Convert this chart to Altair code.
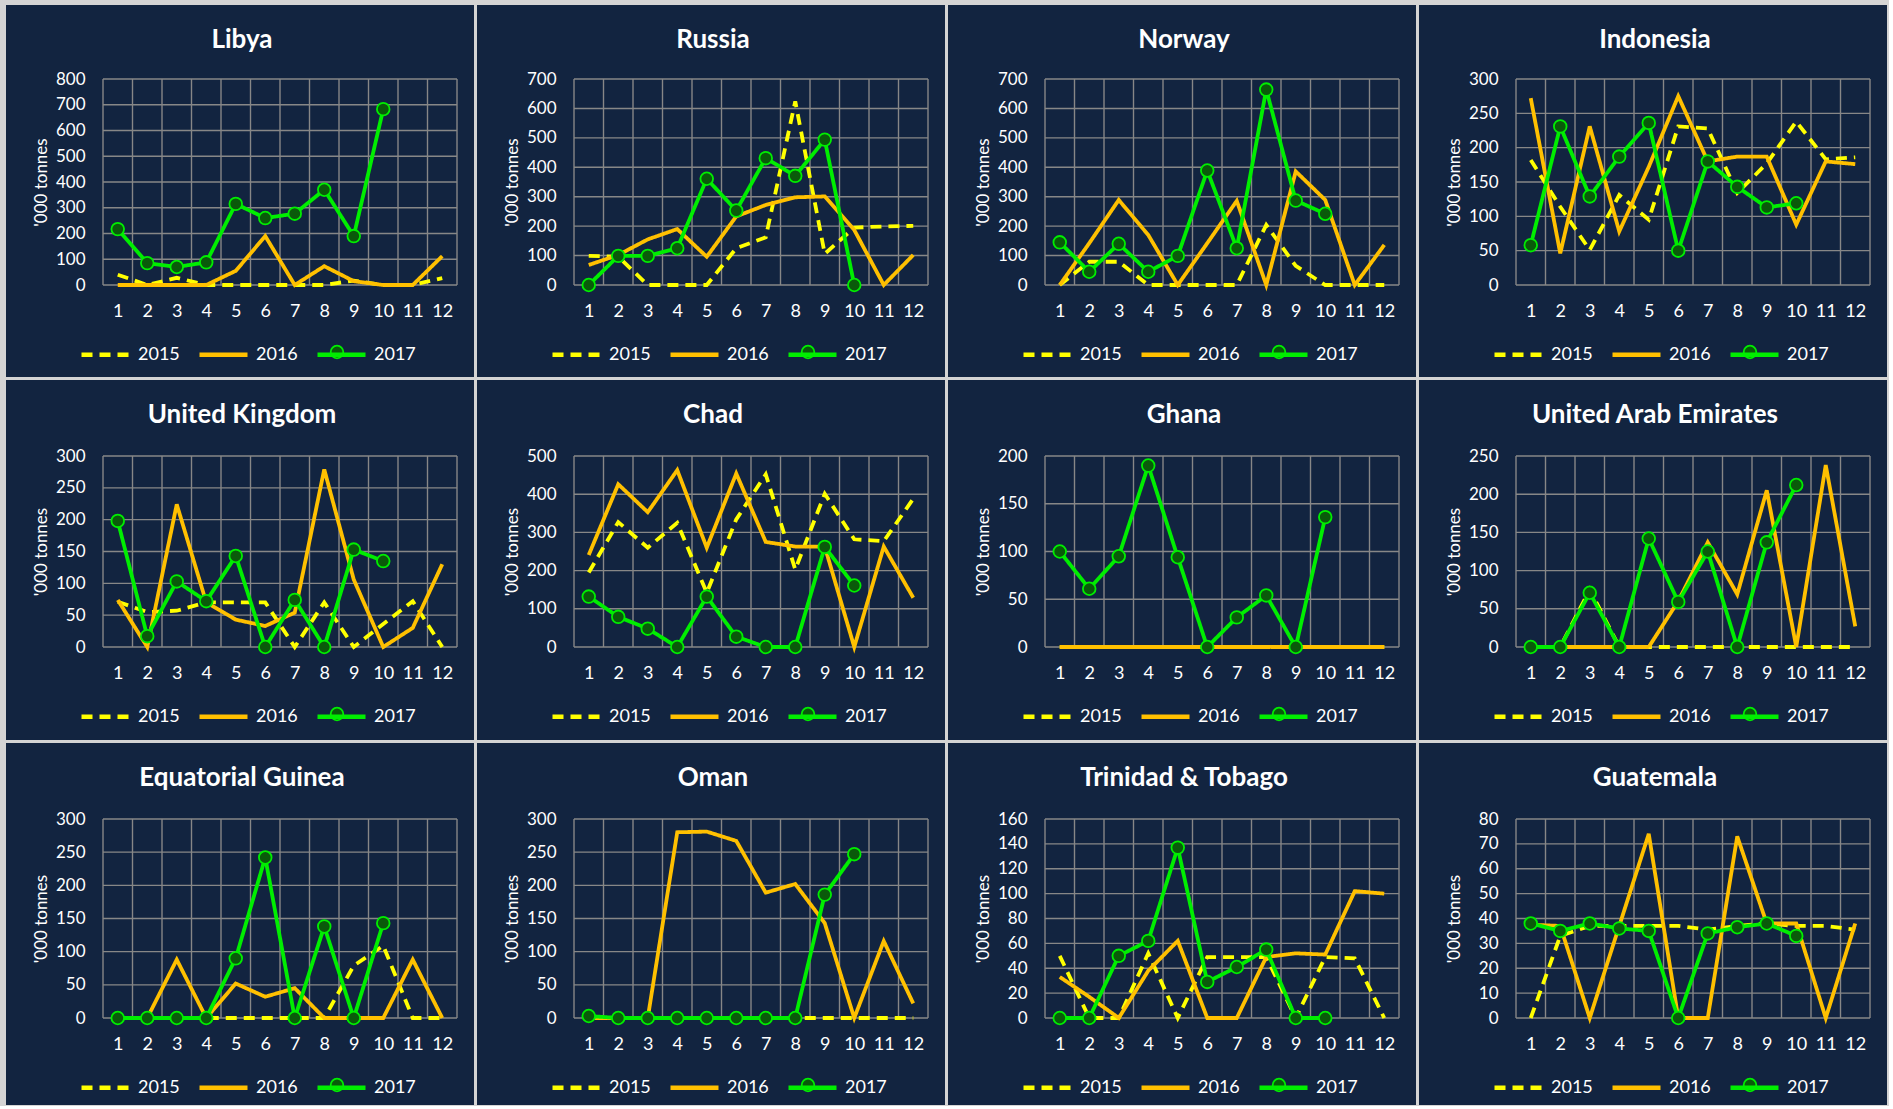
import altair as alt
import pandas as pd

FONT = "Lato"
NAVY = "#122440"
SEP = "#d4d4d4"
GRID = "#878787"
YELLOW = "#ffff00"
ORANGE = "#ffc000"
GREEN = "#00ee00"
DKGREEN = "#0a5a0a"

MONTHS = list(range(1, 13))
YEARS = ["2015", "2016", "2017"]

countries = ["Libya", "Russia", "Norway", "Indonesia",
             "United Kingdom", "Chad", "Ghana", "United Arab Emirates",
             "Equatorial Guinea", "Oman", "Trinidad & Tobago", "Guatemala"]
y_max = [800, 700, 700, 300, 300, 500, 200, 250, 300, 300, 160, 80]
y_step = [100, 100, 100, 50, 50, 100, 50, 50, 50, 50, 20, 10]

libya_2015 = [40, 0, 28, 0, 0, 0, 0, 0, 17, 0, 0, 27]
libya_2016 = [0, 0, 0, 0, 55, 190, 0, 73, 15, 0, 0, 112]
libya_2017 = [217, 85, 70, 88, 315, 260, 277, 370, 190, 683]

russia_2015 = [99, 96, 0, 0, 0, 125, 162, 624, 106, 195, 199, 201]
russia_2016 = [68, 102, 155, 190, 96, 233, 272, 298, 301, 187, 0, 102]
russia_2017 = [0, 99, 99, 125, 361, 253, 431, 371, 494, 0]

norway_2015 = [0, 79, 79, 0, 0, 0, 0, 204, 65, 0, 0, 0]
norway_2016 = [0, 142, 289, 170, 0, 142, 286, 0, 386, 289, 0, 136]
norway_2017 = [145, 45, 140, 45, 99, 389, 125, 664, 287, 242]

indonesia_2015 = [182, 114, 51, 131, 95, 231, 228, 134, 177, 238, 183, 186]
indonesia_2016 = [272, 46, 231, 78, 172, 275, 180, 187, 187, 88, 180, 176]
indonesia_2017 = [58, 231, 129, 187, 236, 50, 180, 143, 113, 119]

uk_2015 = [71, 55, 57, 70, 70, 70, 0, 70, 0, 36, 72, 0]
uk_2016 = [74, 0, 224, 70, 43, 33, 54, 279, 106, 0, 30, 130]
uk_2017 = [198, 17, 103, 72, 143, 0, 74, 0, 153, 135]

chad_2015 = [195, 327, 260, 325, 142, 334, 452, 203, 401, 282, 277, 388]
chad_2016 = [241, 426, 353, 463, 260, 454, 275, 263, 263, 0, 263, 129]
chad_2017 = [132, 79, 48, 0, 132, 27, 0, 0, 262, 161]

ghana_2015 = [0, 0, 0, 0, 0, 0, 0, 0, 0, 0, 0, 0]
ghana_2016 = [0, 0, 0, 0, 0, 0, 0, 0, 0, 0, 0, 0]
ghana_2017 = [100, 61, 95, 190, 94, 0, 31, 54, 0, 136]

uae_2015 = [0, 0, 75, 0, 0, 0, 0, 0, 0, 0, 0, 0]
uae_2016 = [0, 0, 0, 0, 0, 60, 137, 69, 205, 0, 238, 27]
uae_2017 = [0, 0, 71, 0, 142, 59, 125, 0, 137, 212]

eqg_2015 = [0, 0, 0, 0, 0, 0, 0, 0, 79, 109, 0, 0]
eqg_2016 = [0, 0, 88, 0, 52, 32, 45, 0, 0, 0, 88, 0]
eqg_2017 = [0, 0, 0, 0, 90, 242, 0, 138, 0, 143]

oman_2015 = [0, 0, 0, 0, 0, 0, 0, 0, 0, 0, 0, 0]
oman_2016 = [0, 0, 0, 280, 281, 267, 189, 202, 143, 0, 116, 22]
oman_2017 = [3, 0, 0, 0, 0, 0, 0, 0, 186, 247]

tt_2015 = [50, 0, 0, 52, 0, 49, 49, 49, 0, 49, 48, 0]
tt_2016 = [33, 17, 0, 38, 62, 0, 0, 49, 52, 51, 102, 100]
tt_2017 = [0, 0, 50, 62, 137, 29, 41, 55, 0, 0]

guat_2015 = [0, 33, 37, 37, 37, 37, 35.5, 37, 38, 37, 37, 35.5]
guat_2016 = [37.5, 37, 0, 37, 74, 0, 0, 73, 38, 38, 0, 38]
guat_2017 = [38, 35, 38, 36, 35, 0, 34, 36.5, 38, 33]

series = [
    (libya_2015, libya_2016, libya_2017),
    (russia_2015, russia_2016, russia_2017),
    (norway_2015, norway_2016, norway_2017),
    (indonesia_2015, indonesia_2016, indonesia_2017),
    (uk_2015, uk_2016, uk_2017),
    (chad_2015, chad_2016, chad_2017),
    (ghana_2015, ghana_2016, ghana_2017),
    (uae_2015, uae_2016, uae_2017),
    (eqg_2015, eqg_2016, eqg_2017),
    (oman_2015, oman_2016, oman_2017),
    (tt_2015, tt_2016, tt_2017),
    (guat_2015, guat_2016, guat_2017),
]

W = 354
LEFT, RIGHT = 97, 17
# per-row plot geometry: (top space, plot height, bottom space)
ROWS = [(74, 206, 92), (76, 191, 93), (76, 199, 87)]

LEG_X = -24
LEG_SYM = 48
LEG_PAD = 10
LEG_STEP = 117


def panel(name, ymax, ystep, s15, s16, s17, row):
    TOP, H, BOTTOM = ROWS[row]
    rows = []
    for yr, s in zip(YEARS, (s15, s16, s17)):
        for m, v in zip(MONTHS, s):
            rows.append({"month": m, "value": v, "year": yr})
    df = pd.DataFrame(rows)
    df17 = df[df["year"] == "2017"]

    xscale = alt.Scale(domain=[0.5, 12.5], nice=False, zero=False)
    yscale = alt.Scale(domain=[0, ymax], nice=False)
    yticks = list(range(0, ymax + 1, ystep))

    xaxis = alt.Axis(values=MONTHS, format="d", grid=False, domain=False, ticks=False,
                     labelPadding=17, labelFontSize=18, labelColor="white",
                     labelFont=FONT, zindex=1, title=None)
    yaxis = alt.Axis(values=yticks, grid=False, domain=False, ticks=False,
                     labelPadding=18, labelFontSize=17, labelColor="white",
                     labelFont=FONT, titleFont=FONT, titleFontSize=17,
                     titleFontWeight="normal", titleColor="white",
                     titleX=-62, titleY=H / 2, titleBaseline="middle",
                     titleAngle=270, zindex=1, title="'000 tonnes")

    X = alt.X("month:Q", scale=xscale, axis=xaxis)
    Y = alt.Y("value:Q", scale=yscale, axis=yaxis)

    bg = alt.Chart(alt.Data(values=[{"k": 0}])).mark_rect(fill=NAVY).encode(
        x=alt.value(-LEFT), x2=alt.value(W + RIGHT),
        y=alt.value(-TOP), y2=alt.value(H + BOTTOM))

    title = alt.Chart(alt.Data(values=[{"name": name}])).mark_text(
        font=FONT, fontSize=26, fontWeight="bold", color="white",
        align="center", baseline="middle").encode(
        text="name:N", x=alt.value((LEFT + W + RIGHT) / 2 - LEFT + 2), y=alt.value(-TOP + 35))

    hgrid = alt.Chart(pd.DataFrame({"value": yticks})).mark_rule(
        color=GRID, strokeWidth=1.4).encode(y=Y)
    vgrid = alt.Chart(pd.DataFrame({"month": [m - 0.5 for m in range(1, 14)]})).mark_rule(
        color=GRID, strokeWidth=1.4).encode(x=X)

    leg = alt.Legend(orient="none", legendX=LEG_X, legendY=H + 43, direction="horizontal",
                     title=None, symbolType="stroke", symbolSize=LEG_SYM * LEG_SYM,
                     symbolStrokeWidth=4.5,
                     labelFontSize=18, labelColor="white", labelFont=FONT,
                     columnPadding=LEG_PAD, labelOffset=6, zindex=1)

    lines = alt.Chart(df).mark_line(strokeWidth=3.8).encode(
        x=X, y=Y,
        color=alt.Color("year:N", scale=alt.Scale(domain=YEARS, range=[YELLOW, ORANGE, GREEN]),
                        legend=leg),
        strokeDash=alt.StrokeDash("year:N", scale=alt.Scale(domain=YEARS, range=[[11, 7], [1, 0], [1, 0]]),
                                  legend=leg),
    )

    pts = alt.Chart(df17).mark_circle(size=160, color=DKGREEN, stroke=GREEN,
                                      strokeWidth=1.8, opacity=1).encode(x=X, y=Y)

    # marker glyph of the 2017 legend entry (line with circle)
    leg_marker = alt.Chart(alt.Data(values=[{"year": "2017"}])).mark_circle(
        size=160, color=DKGREEN, stroke=GREEN, strokeWidth=1.8, opacity=1).encode(
        x=alt.value(LEG_X + 2 * LEG_STEP + LEG_SYM / 2), y=alt.value(H + 43 + LEG_SYM / 2))

    return alt.layer(bg, hgrid, vgrid, lines, pts, title, leg_marker).properties(width=W, height=H)


panels = [panel(countries[i], y_max[i], y_step[i], *series[i], row=i // 4) for i in range(12)]

chart = alt.concat(*panels, columns=4, spacing=3).resolve_scale(
    x="independent", y="independent", color="independent", strokeDash="independent"
).properties(
    background=SEP,
    padding={"left": 6, "top": 5, "right": 2, "bottom": 1},
).configure_view(strokeWidth=0)

chart.save("out.html", embed_options={"renderer": "svg", "actions": False})
